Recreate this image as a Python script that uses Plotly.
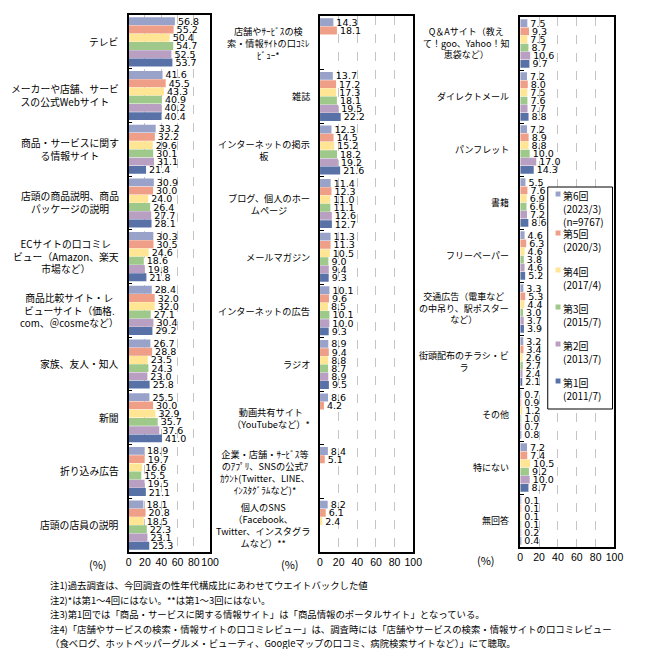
import plotly.graph_objects as go

W, H = 649, 649

series_names = ["第6回", "第5回", "第4回", "第3回", "第2回", "第1回"]
series_periods = ["(2023/3)<br>(n=9767)", "(2020/3)", "(2017/4)", "(2015/7)", "(2013/7)", "(2011/7)"]
series_colors = ["#99A2C9", "#EF9F88", "#FFE594", "#9FC98A", "#B99FC2", "#5872A7"]

cats1 = [
    "テレビ",
    "メーカーや店舗、サービ<br>スの公式Webサイト",
    "商品・サービスに関す<br>る情報サイト",
    "店頭の商品説明、商品<br>パッケージの説明",
    "ECサイトの口コミレ<br>ビュー（Amazon、楽天<br>市場など）",
    "商品比較サイト・レ<br>ビューサイト（価格.<br>com、＠cosmeなど）",
    "家族、友人・知人",
    "新聞",
    "折り込み広告",
    "店頭の店員の説明",
]
p1_r6 = [56.8, 41.6, 33.2, 30.9, 30.3, 28.4, 26.7, 25.5, 18.9, 18.1]
p1_r5 = [55.2, 45.5, 32.2, 30.0, 30.5, 32.0, 28.8, 30.0, 19.7, 20.8]
p1_r4 = [50.4, 43.3, 29.6, 24.0, 24.6, 32.0, 23.5, 32.9, 16.6, 18.5]
p1_r3 = [54.7, 40.9, 30.1, 26.4, 18.6, 27.1, 24.3, 35.7, 15.5, 22.3]
p1_r2 = [52.5, 40.2, 31.1, 27.7, 19.8, 30.4, 23.0, 37.6, 19.5, 23.1]
p1_r1 = [53.7, 40.4, 21.4, 28.1, 21.8, 29.2, 25.8, 41.0, 21.1, 25.3]

cats2 = [
    "店舗やｻｰﾋﾞｽの検<br>索・情報ｻｲﾄの口ｺﾐﾚ<br>ﾋﾞｭｰ*",
    "雑誌",
    "インターネットの掲示<br>板",
    "ブログ、個人のホー<br>ムページ",
    "メールマガジン",
    "インターネットの広告",
    "ラジオ",
    "動画共有サイト<br>（YouTubeなど）*",
    "企業・店舗・ｻｰﾋﾞｽ等<br>のｱﾌﾟﾘ、SNSの公式ｱ<br>ｶｳﾝﾄ(Twitter、LINE、<br>ｲﾝｽﾀｸﾞﾗﾑなど)*",
    "個人のSNS<br>（Facebook、<br>Twitter、インスタグラ<br>ムなど）**",
]
p2_r6 = [14.3, 13.7, 12.3, 11.4, 11.3, 10.1, 8.9, 8.6, 8.4, 8.2]
p2_r5 = [18.1, 17.2, 14.5, 12.3, 11.3, 9.6, 9.4, 4.2, 5.1, 6.1]
p2_r4 = [None, 17.3, 15.2, 11.0, 10.5, 8.5, 8.8, None, None, 2.4]
p2_r3 = [None, 18.1, 18.2, 11.1, 9.0, 10.1, 8.7, None, None, None]
p2_r2 = [None, 19.5, 19.2, 12.6, 9.4, 10.0, 8.9, None, None, None]
p2_r1 = [None, 22.2, 21.6, 12.7, 9.3, 9.3, 9.5, None, None, None]

cats3 = [
    "Q＆Aサイト（教え<br>て！goo、Yahoo！知<br>恵袋など）",
    "ダイレクトメール",
    "パンフレット",
    "書籍",
    "フリーペーパー",
    "交通広告（電車など<br>の中吊り、駅ポスター<br>など）",
    "街頭配布のチラシ・ビ<br>ラ",
    "その他",
    "特にない",
    "無回答",
]
p3_r6 = [7.5, 7.2, 7.2, 5.5, 4.6, 3.3, 3.2, 0.7, 7.2, 0.1]
p3_r5 = [9.3, 8.0, 8.9, 7.6, 6.3, 5.3, 3.4, 0.9, 7.4, 0.1]
p3_r4 = [7.5, 7.5, 8.8, 6.9, 4.6, 4.4, 2.6, 1.2, 10.5, 0.1]
p3_r3 = [8.7, 7.6, 10.0, 6.6, 3.8, 3.0, 2.7, 1.0, 9.2, 0.1]
p3_r2 = [10.6, 7.7, 17.0, 7.2, 4.6, 3.7, 2.4, 0.7, 10.0, 0.2]
p3_r1 = [9.7, 8.8, 14.3, 8.6, 5.2, 3.9, 2.1, 0.8, 8.7, 0.4]

x_ticks = [0, 20, 40, 60, 80, 100]

notes = [
    "注1)過去調査は、今回調査の性年代構成比にあわせてウエイトバックした値",
    "注2)*は第1～4回にはない。**は第1～3回にはない。",
    "注3)第1回では「商品・サービスに関する情報サイト」は「商品情報のポータルサイト」となっている。",
    "注4)「店舗やサービスの検索・情報サイトの口コミレビュー」は、調査時には「店舗やサービスの検索・情報サイトの口コミレビュー",
    "（食べログ、ホットペッパーグルメ・ビューティ、Googleマップの口コミ、病院検索サイトなど）」にて聴取。",
]

panels = [
    dict(cats=cats1, data=[p1_r6, p1_r5, p1_r4, p1_r3, p1_r2, p1_r1],
         xdom=(128, 211), ydom=(15, 552), lab_shift=-9, lab_size=9.8, pct_x=97, tick_y=564),
    dict(cats=cats2, data=[p2_r6, p2_r5, p2_r4, p2_r3, p2_r2, p2_r1],
         xdom=(323, 418), ydom=(16, 552), lab_shift=-9, lab_size=9.2, pct_x=292, tick_y=564),
    dict(cats=cats3, data=[p3_r6, p3_r5, p3_r4, p3_r3, p3_r2, p3_r1],
         xdom=(527, 623), ydom=(17, 547), lab_shift=-10, lab_size=9.0, pct_x=492, tick_y=560),
]

CJK = "Noto Sans CJK JP"
NUM = "DejaVu Sans"

fig = go.Figure()
annotations = []
shapes = []
layout_axes = {}

for pi, p in enumerate(panels, start=1):
    sfx = "" if pi == 1 else str(pi)
    xa, ya = "x" + sfx, "y" + sfx
    for si, vals in enumerate(p["data"]):
        fig.add_trace(go.Bar(
            x=vals, y=p["cats"], orientation="h",
            marker=dict(color=series_colors[si], line=dict(width=0)),
            name=series_names[si], showlegend=False,
            texttemplate="%{x:.1f}", textposition="outside",
            textfont=dict(family=NUM, size=9.5, color="black"),
            constraintext="none", cliponaxis=False,
            xaxis=xa, yaxis=ya, hoverinfo="x+y+name",
        ))
    layout_axes["xaxis" + sfx] = dict(
        domain=[p["xdom"][0] / W, p["xdom"][1] / W], anchor=ya,
        range=[0, 100], tickvals=x_ticks, tickangle=0,
        tickfont=dict(family="Liberation Sans", size=10.5, color="black"),
        showgrid=True, gridcolor="#C4C4C4", griddash="dash", gridwidth=1,
        zeroline=False, showline=True, mirror=True, linecolor="black", linewidth=1.5,
        ticks="", fixedrange=True,
    )
    layout_axes["yaxis" + sfx] = dict(
        domain=[1 - p["ydom"][1] / H, 1 - p["ydom"][0] / H], anchor=xa,
        type="category", autorange="reversed", showticklabels=False,
        ticks="inside", tickson="boundaries", ticklen=4, tickcolor="black", tickwidth=1,
        showgrid=False, zeroline=False, showline=True, mirror=True,
        linecolor="black", linewidth=1.5, fixedrange=True,
    )
    for c in p["cats"]:
        annotations.append(dict(
            text=c, xref=xa, yref=ya, x=0, y=c, xanchor="right", yanchor="middle",
            xshift=p["lab_shift"], align="center", showarrow=False, borderpad=0,
            font=dict(family=CJK, size=p["lab_size"], color="black"),
        ))
    annotations.append(dict(
        text="(%)", xref="paper", yref="paper", x=p["pct_x"] / W, y=1 - p["tick_y"] / H,
        xanchor="center", yanchor="middle", showarrow=False,
        font=dict(family=CJK, size=11, color="black"),
    ))

# legend (drawn inside third panel)
lg_x0, lg_x1, lg_y0, lg_y1 = 555, 621, 187, 409
shapes.append(dict(type="rect", xref="paper", yref="paper",
                   x0=lg_x0 / W, x1=lg_x1 / W, y0=1 - lg_y1 / H, y1=1 - lg_y0 / H,
                   line=dict(color="black", width=1), fillcolor="white", layer="above"))
entry_y = [194, 233, 270, 307, 344, 381]
for si in range(len(series_names)):
    yc = entry_y[si]
    shapes.append(dict(type="rect", xref="paper", yref="paper",
                       x0=563 / W, x1=568 / W, y0=1 - (yc + 2.5) / H, y1=1 - (yc - 2.5) / H,
                       line=dict(width=0), fillcolor=series_colors[si], layer="above"))
    annotations.append(dict(
        text=series_names[si] + "<br>" + series_periods[si],
        xref="paper", yref="paper", x=570 / W, y=1 - (yc - 7.5) / H,
        xanchor="left", yanchor="top", align="left", showarrow=False, borderpad=0,
        font=dict(family=CJK, size=10, color="black"),
    ))

note_y = [585, 600, 614, 629, 643]
for t, ny in zip(notes, note_y):
    annotations.append(dict(
        text=t, xref="paper", yref="paper", x=46 / W, y=1 - ny / H,
        xanchor="left", yanchor="middle", showarrow=False,
        font=dict(family=CJK, size=9.4, color="black"),
    ))

fig.update_layout(
    width=W, height=H, margin=dict(l=0, r=0, t=0, b=0),
    paper_bgcolor="white", plot_bgcolor="white",
    barmode="group", bargap=0.08, bargroupgap=0.04,
    showlegend=False, annotations=annotations, shapes=shapes,
    font=dict(family=CJK, color="black"),
    **layout_axes,
)

fig.write_html(
    "out.html",
    config={"displayModeBar": False},
    post_script="document.body.style.margin='0px';document.body.style.overflow='hidden';",
)
